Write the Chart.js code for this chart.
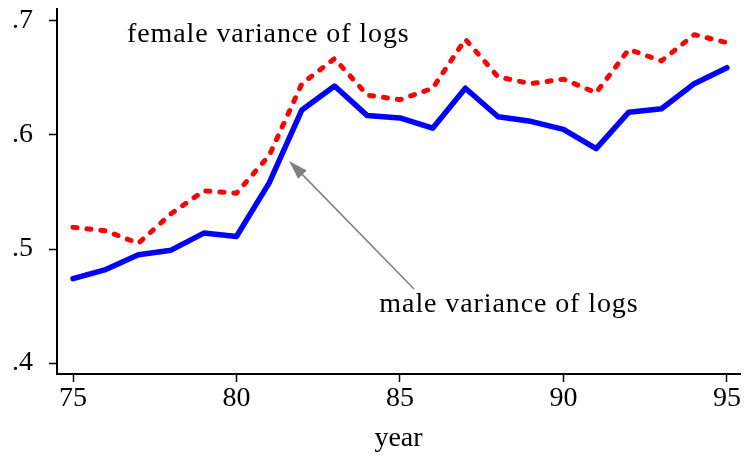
<!DOCTYPE html>
<html>
<head>
<meta charset="utf-8">
<script src="https://cdn.jsdelivr.net/npm/chart.js@4/dist/chart.umd.min.js"></script>
<style>
  html, body { margin: 0; padding: 0; background: #fff; }
  #wrap { width: 748px; height: 458px; }
</style>
</head>
<body>
<div id="wrap"><canvas id="line-chart"></canvas></div>
<script>
const years = [75, 76, 77, 78, 79, 80, 81, 82, 83, 84, 85, 86, 87, 88, 89, 90, 91, 92, 93, 94, 95];
const maleVar = [0.474, 0.482, 0.495, 0.499, 0.514, 0.511, 0.558, 0.622, 0.643, 0.617, 0.615, 0.606, 0.641, 0.616, 0.612, 0.605, 0.588, 0.620, 0.623, 0.645, 0.659];
const femaleVar = [0.519, 0.516, 0.505, 0.531, 0.551, 0.549, 0.582, 0.645, 0.667, 0.635, 0.631, 0.641, 0.684, 0.651, 0.645, 0.649, 0.637, 0.675, 0.665, 0.688, 0.681];
const yTicks = [0.4, 0.5, 0.6, 0.7];
const xTicks = [75, 80, 85, 90, 95];

const serif = '"Liberation Serif", "Times New Roman", serif';

// text labels and arrow, anchored in data units
const labels = [
    {text: 'female variance of logs', x: 76.65, y: 0.6819},
    {text: 'male variance of logs', x: 84.37, y: 0.4452}
];
const arrow = {from: [85.43, 0.465], to: [81.61, 0.5772]};

const notes = {
    id: 'notes',
    afterDatasetsDraw(chart) {
        const ctx = chart.ctx;
        const xs = chart.scales.x, ys = chart.scales.y;
        ctx.save();
        ctx.font = '28px ' + serif;
        ctx.fillStyle = '#000';
        ctx.textBaseline = 'alphabetic';
        ctx.textAlign = 'left';
        ctx.letterSpacing = '0.9px';
        labels.forEach(function (l) {
            ctx.fillText(l.text, xs.getPixelForValue(l.x), ys.getPixelForValue(l.y));
        });
        const x1 = xs.getPixelForValue(arrow.from[0]), y1 = ys.getPixelForValue(arrow.from[1]);
        const x2 = xs.getPixelForValue(arrow.to[0]), y2 = ys.getPixelForValue(arrow.to[1]);
        const ang = Math.atan2(y2 - y1, x2 - x1);
        const hl = 19, hw = 6;
        const bx = x2 - hl * Math.cos(ang), by = y2 - hl * Math.sin(ang);
        ctx.strokeStyle = '#808080';
        ctx.fillStyle = '#808080';
        ctx.lineWidth = 1.6;
        ctx.beginPath();
        ctx.moveTo(x1, y1);
        ctx.lineTo(bx, by);
        ctx.stroke();
        ctx.beginPath();
        ctx.moveTo(x2, y2);
        ctx.lineTo(bx + hw * Math.sin(ang), by - hw * Math.cos(ang));
        ctx.lineTo(bx - hw * Math.sin(ang), by + hw * Math.cos(ang));
        ctx.closePath();
        ctx.fill();
        ctx.restore();
    }
};

function noPad(s) {
    s.paddingTop = 0;
    s.paddingBottom = 0;
    s.paddingLeft = 0;
    s.paddingRight = 0;
}

new Chart(document.getElementById('line-chart'), {
    type: 'line',
    data: {
        datasets: [
            {
                label: 'female',
                data: years.map((y, i) => ({x: y, y: femaleVar[i]})),
                borderColor: '#ff0000',
                borderWidth: 5,
                borderDash: [4, 10],
                borderCapStyle: 'round',
                borderJoinStyle: 'round',
                pointRadius: 0,
                tension: 0
            },
            {
                label: 'male',
                data: years.map((y, i) => ({x: y, y: maleVar[i]})),
                borderColor: '#0000ff',
                borderWidth: 5.5,
                borderCapStyle: 'round',
                borderJoinStyle: 'round',
                pointRadius: 0,
                tension: 0
            }
        ]
    },
    options: {
        responsive: true,
        maintainAspectRatio: false,
        animation: false,
        events: [],
        layout: {padding: {top: 9, right: 8, left: 0, bottom: 0}},
        plugins: {legend: {display: false}, tooltip: {enabled: false}},
        scales: {
            x: {
                type: 'linear',
                min: 74.51,
                max: 95.4,
                afterBuildTicks: s => { s.ticks = xTicks.map(v => ({value: v})); },
                afterFit: s => { s.height = 84; noPad(s); },
                grid: {drawOnChartArea: false, tickLength: 8, tickColor: '#000', tickWidth: 1.5},
                border: {color: '#000', width: 2},
                ticks: {color: '#000', font: {family: serif, size: 28}, padding: 0, maxRotation: 0},
                title: {display: true, text: 'year', color: '#000', font: {family: serif, size: 28}, padding: {top: 0, bottom: 3}}
            },
            y: {
                min: 0.3904,
                max: 0.7105,
                afterBuildTicks: s => { s.ticks = yTicks.map(v => ({value: v})); },
                afterFit: s => { s.width = 57; noPad(s); },
                grid: {drawOnChartArea: false, tickLength: 8, tickColor: '#000', tickWidth: 1.5},
                border: {color: '#000', width: 2},
                ticks: {
                    color: '#000',
                    font: {family: serif, size: 28},
                    padding: 16,
                    callback: v => v.toFixed(1).replace(/^0/, '')
                }
            }
        }
    },
    plugins: [notes]
});
</script>
</body>
</html>
